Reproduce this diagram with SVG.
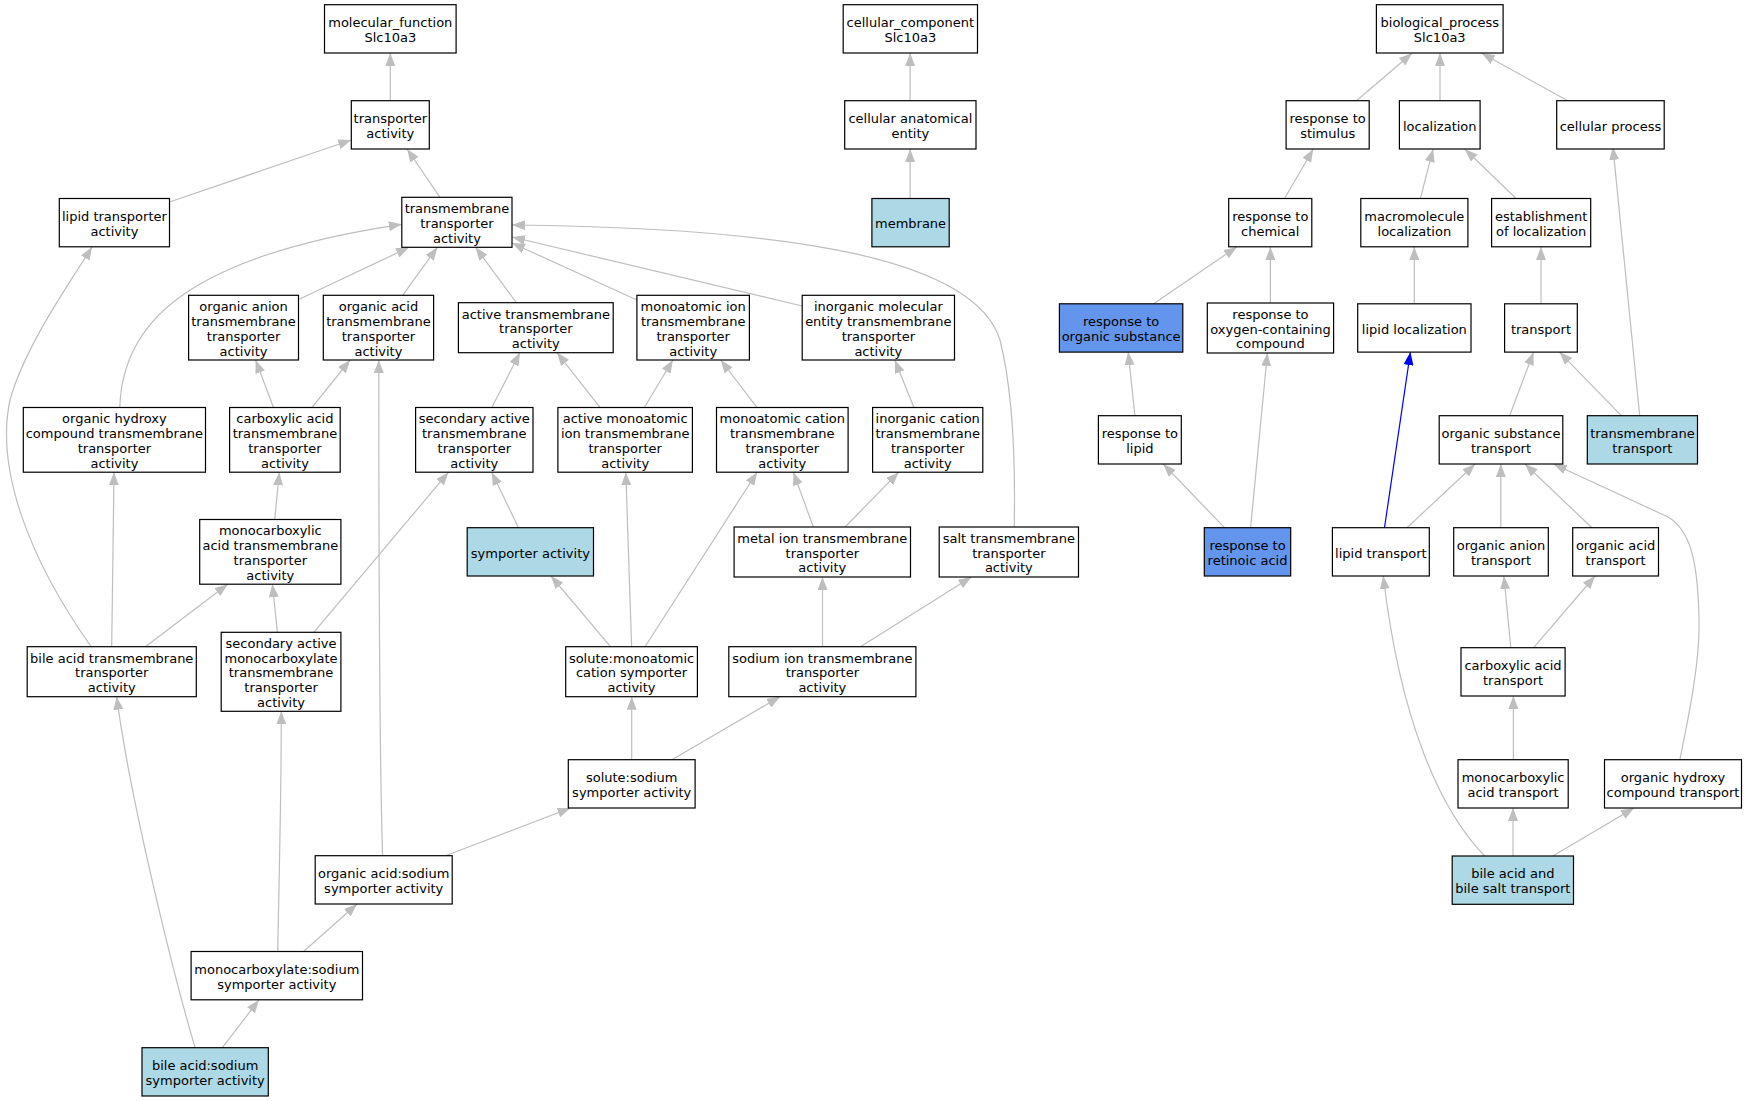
<svg xmlns="http://www.w3.org/2000/svg" width="1748" height="1101" viewBox="0 0 1748 1101">
<defs>
<style>
.n rect{fill:#ffffff;stroke:#000000;stroke-width:1.2}
.n.lb rect{fill:#add8e6}
.n.cb rect{fill:#6495ed}
.n text{font-family:"DejaVu Sans","Liberation Sans",sans-serif;font-size:13px;fill:#000000;text-anchor:middle;transform:translate(0px,1.2px)}
#edges path{fill:none;stroke:#bebebe;stroke-width:1.2;marker-end:url(#ah)}
#edges path.blue{stroke:#0000ff;marker-end:url(#ahb)}
</style>
<marker id="ah" markerUnits="userSpaceOnUse" viewBox="0 0 13 10" markerWidth="13" markerHeight="10" refX="13" refY="5" orient="auto"><path d="M0,0 L13,5 L0,10 z" fill="#bebebe"/></marker>
<marker id="ahb" markerUnits="userSpaceOnUse" viewBox="0 0 13 10" markerWidth="13" markerHeight="10" refX="13" refY="5" orient="auto"><path d="M0,0 L13,5 L0,10 z" fill="#0000ff"/></marker>
</defs>
<rect width="1748" height="1101" fill="#ffffff"/>
<g id="edges">
<path d="M390.3,100.7 L390.3,53"/>
<path d="M169.5,202 L351.3,140"/>
<path d="M440,197.3 L407.1,149"/>
<path d="M299.2,299.3 L409,247.3"/>
<path d="M402.6,295.3 L437.4,247.3"/>
<path d="M516.6,303 L475.6,247.3"/>
<path d="M119.8,407.7 C122,330 175,258 401.8,224.3"/>
<path d="M636.9,300 L512,243"/>
<path d="M802.2,306 L512,237"/>
<path d="M1014.2,527 C1016,440 1010,380 1000,340 C975,260 800,228 512,225"/>
<path d="M273.6,407.7 L255.6,360"/>
<path d="M311.9,407.7 L350.1,360"/>
<path d="M382.6,855.7 C379.5,760 378.8,600 378.8,360"/>
<path d="M491.7,407.7 L520,352.6"/>
<path d="M600.2,407.7 L557,352.6"/>
<path d="M644.2,407.7 L672.9,360"/>
<path d="M757.1,407.7 L720.7,360"/>
<path d="M914,407.7 L894.8,360"/>
<path d="M111.7,646.7 L114,472.2"/>
<path d="M91.1,646.7 C30,560 -5,470 10,400 C25,345 75,275 92,246.9"/>
<path d="M274.7,519.5 L279.3,472.2"/>
<path d="M145.4,646.7 L227.7,584.2"/>
<path d="M277.4,632.3 L272.4,584.2"/>
<path d="M313.8,632.3 L448.5,472.2"/>
<path d="M518.5,527.7 L491.7,472.2"/>
<path d="M610.5,646.7 L551,576"/>
<path d="M631.6,646.7 L625.8,472.2"/>
<path d="M645,646.7 L757.1,472.2"/>
<path d="M813.3,527 L793.4,472.2"/>
<path d="M845.1,527 L898.7,472.2"/>
<path d="M822.5,646.7 L822.5,577"/>
<path d="M860.4,646.7 L971.4,577"/>
<path d="M631.7,759.7 L631.7,696.7"/>
<path d="M671.9,759.7 L780,696.7"/>
<path d="M445.5,855.7 L570.5,808"/>
<path d="M303.6,951.5 L357.1,904"/>
<path d="M277.7,951.5 C279,880 281.3,800 281.3,711.3"/>
<path d="M222.3,1047.7 L258.9,1000"/>
<path d="M195.1,1047.7 C175,980 130,800 116.7,696.7"/>
<path d="M910.1,100.7 L910.1,53"/>
<path d="M910.1,198.5 L910.1,149"/>
<path d="M1356.5,100.7 L1412,53.3"/>
<path d="M1440,100.7 L1440,53"/>
<path d="M1567.8,100.7 L1481.7,53.3"/>
<path d="M1284.6,198.5 L1313.3,149"/>
<path d="M1420.4,198.5 L1433.1,149"/>
<path d="M1516.1,198.5 L1464.8,149"/>
<path d="M1639.7,415.7 L1612.9,146.9"/>
<path d="M1153.7,303.8 L1236.8,246.9"/>
<path d="M1270.4,303 L1270.4,246.9"/>
<path d="M1414.3,303.8 L1414.3,246.9"/>
<path d="M1541,303.8 L1541,246.9"/>
<path d="M1134.9,415.7 L1128.2,352.1"/>
<path d="M1224.5,527.7 L1163.3,464"/>
<path d="M1250.6,527.7 L1267.4,353"/>
<path class="blue" d="M1384.5,527.7 L1410.4,352.1"/>
<path d="M1509.6,415.7 L1533.6,352.1"/>
<path d="M1621.3,415.7 L1559.5,352.1"/>
<path d="M1407,527.7 L1475.2,464"/>
<path d="M1500.8,527.7 L1500.8,464"/>
<path d="M1591.9,527.7 L1524.9,464"/>
<path d="M1679.9,759.7 C1690,710 1700,660 1699,620 C1698,560 1690,530 1668,517 L1553.6,464"/>
<path d="M1510.8,647.7 L1503.9,576"/>
<path d="M1533.7,647.7 L1595,576"/>
<path d="M1513.4,759.7 L1513.4,696"/>
<path d="M1513,856 L1513,808"/>
<path d="M1552.9,856 L1634,808"/>
<path d="M1484.7,856 C1440,810 1400,720 1383.3,576"/>
</g>
<g id="molecular_function" class="n"><rect x="324.5" y="4.7" width="131.6" height="48.3"/><text><tspan x="390.3" y="25.9">molecular_function</tspan><tspan x="390.3" y="40.7">Slc10a3</tspan></text></g>
<g id="transporter_activity" class="n"><rect x="351.3" y="100.7" width="78" height="48.3"/><text><tspan x="390.3" y="121.9">transporter</tspan><tspan x="390.3" y="136.7">activity</tspan></text></g>
<g id="lipid_transporter_activity" class="n"><rect x="59.3" y="198.5" width="110.2" height="48.3"/><text><tspan x="114.4" y="219.8">lipid transporter</tspan><tspan x="114.4" y="234.6">activity</tspan></text></g>
<g id="transmembrane_transporter_activity" class="n"><rect x="401.8" y="197.3" width="110.2" height="50"/><text><tspan x="456.9" y="212">transmembrane</tspan><tspan x="456.9" y="226.8">transporter</tspan><tspan x="456.9" y="241.6">activity</tspan></text></g>
<g id="organic_anion_tm" class="n"><rect x="188.6" y="295.3" width="109.9" height="64.7"/><text><tspan x="243.55" y="309.95">organic anion</tspan><tspan x="243.55" y="324.75">transmembrane</tspan><tspan x="243.55" y="339.55">transporter</tspan><tspan x="243.55" y="354.35">activity</tspan></text></g>
<g id="organic_acid_tm" class="n"><rect x="323.3" y="295.3" width="110.3" height="64.7"/><text><tspan x="378.45" y="309.95">organic acid</tspan><tspan x="378.45" y="324.75">transmembrane</tspan><tspan x="378.45" y="339.55">transporter</tspan><tspan x="378.45" y="354.35">activity</tspan></text></g>
<g id="active_tm" class="n"><rect x="458.4" y="302.7" width="154.8" height="50"/><text><tspan x="535.8" y="317.35">active transmembrane</tspan><tspan x="535.8" y="332.15">transporter</tspan><tspan x="535.8" y="346.95">activity</tspan></text></g>
<g id="monoatomic_ion_tm" class="n"><rect x="636.9" y="295.3" width="112.5" height="64.7"/><text><tspan x="693.15" y="309.95">monoatomic ion</tspan><tspan x="693.15" y="324.75">transmembrane</tspan><tspan x="693.15" y="339.55">transporter</tspan><tspan x="693.15" y="354.35">activity</tspan></text></g>
<g id="inorganic_molecular_entity_tm" class="n"><rect x="802.2" y="295.3" width="152.3" height="64.7"/><text><tspan x="878.35" y="309.95">inorganic molecular</tspan><tspan x="878.35" y="324.75">entity transmembrane</tspan><tspan x="878.35" y="339.55">transporter</tspan><tspan x="878.35" y="354.35">activity</tspan></text></g>
<g id="organic_hydroxy_tm" class="n"><rect x="23.3" y="407.5" width="182.2" height="64.7"/><text><tspan x="114.4" y="422.15">organic hydroxy</tspan><tspan x="114.4" y="436.95">compound transmembrane</tspan><tspan x="114.4" y="451.75">transporter</tspan><tspan x="114.4" y="466.55">activity</tspan></text></g>
<g id="carboxylic_acid_tm" class="n"><rect x="229.6" y="407.5" width="110.6" height="64.7"/><text><tspan x="284.9" y="422.15">carboxylic acid</tspan><tspan x="284.9" y="436.95">transmembrane</tspan><tspan x="284.9" y="451.75">transporter</tspan><tspan x="284.9" y="466.55">activity</tspan></text></g>
<g id="secondary_active_tm" class="n"><rect x="415.6" y="407.5" width="117.4" height="64.7"/><text><tspan x="474.3" y="422.15">secondary active</tspan><tspan x="474.3" y="436.95">transmembrane</tspan><tspan x="474.3" y="451.75">transporter</tspan><tspan x="474.3" y="466.55">activity</tspan></text></g>
<g id="active_monoatomic_ion_tm" class="n"><rect x="557.9" y="407.5" width="134.5" height="64.7"/><text><tspan x="625.15" y="422.15">active monoatomic</tspan><tspan x="625.15" y="436.95">ion transmembrane</tspan><tspan x="625.15" y="451.75">transporter</tspan><tspan x="625.15" y="466.55">activity</tspan></text></g>
<g id="monoatomic_cation_tm" class="n"><rect x="716.5" y="407.5" width="131.6" height="64.7"/><text><tspan x="782.3" y="422.15">monoatomic cation</tspan><tspan x="782.3" y="436.95">transmembrane</tspan><tspan x="782.3" y="451.75">transporter</tspan><tspan x="782.3" y="466.55">activity</tspan></text></g>
<g id="inorganic_cation_tm" class="n"><rect x="872.6" y="407.5" width="110.2" height="64.7"/><text><tspan x="927.7" y="422.15">inorganic cation</tspan><tspan x="927.7" y="436.95">transmembrane</tspan><tspan x="927.7" y="451.75">transporter</tspan><tspan x="927.7" y="466.55">activity</tspan></text></g>
<g id="monocarboxylic_acid_tm" class="n"><rect x="199.7" y="519.5" width="141.2" height="64.7"/><text><tspan x="270.3" y="534.15">monocarboxylic</tspan><tspan x="270.3" y="548.95">acid transmembrane</tspan><tspan x="270.3" y="563.75">transporter</tspan><tspan x="270.3" y="578.55">activity</tspan></text></g>
<g id="symporter_activity" class="n lb"><rect x="467.2" y="527.7" width="126.3" height="48.3"/><text><tspan x="530.35" y="556.35">symporter activity</tspan></text></g>
<g id="metal_ion_tm" class="n"><rect x="734.1" y="527" width="176.4" height="50"/><text><tspan x="822.3" y="541.7">metal ion transmembrane</tspan><tspan x="822.3" y="556.5">transporter</tspan><tspan x="822.3" y="571.3">activity</tspan></text></g>
<g id="salt_tm" class="n"><rect x="939.2" y="527" width="139.3" height="50"/><text><tspan x="1008.85" y="541.7">salt transmembrane</tspan><tspan x="1008.85" y="556.5">transporter</tspan><tspan x="1008.85" y="571.3">activity</tspan></text></g>
<g id="bile_acid_tm" class="n"><rect x="27.2" y="646.7" width="169.1" height="50"/><text><tspan x="111.75" y="661.45">bile acid transmembrane</tspan><tspan x="111.75" y="676.25">transporter</tspan><tspan x="111.75" y="691.05">activity</tspan></text></g>
<g id="secondary_active_monocarboxylate_tm" class="n"><rect x="221.2" y="632.3" width="119.7" height="79"/><text><tspan x="281.05" y="646.7">secondary active</tspan><tspan x="281.05" y="661.5">monocarboxylate</tspan><tspan x="281.05" y="676.3">transmembrane</tspan><tspan x="281.05" y="691.1">transporter</tspan><tspan x="281.05" y="705.9">activity</tspan></text></g>
<g id="solute_monoatomic_cation_symporter" class="n"><rect x="565.7" y="646.7" width="131.7" height="50"/><text><tspan x="631.55" y="661.45">solute:monoatomic</tspan><tspan x="631.55" y="676.25">cation symporter</tspan><tspan x="631.55" y="691.05">activity</tspan></text></g>
<g id="sodium_ion_tm" class="n"><rect x="728.8" y="646.7" width="187.1" height="50"/><text><tspan x="822.35" y="661.45">sodium ion transmembrane</tspan><tspan x="822.35" y="676.25">transporter</tspan><tspan x="822.35" y="691.05">activity</tspan></text></g>
<g id="solute_sodium_symporter" class="n"><rect x="568.3" y="759.7" width="126.8" height="48.3"/><text><tspan x="631.7" y="780.95">solute:sodium</tspan><tspan x="631.7" y="795.75">symporter activity</tspan></text></g>
<g id="organic_acid_sodium_symporter" class="n"><rect x="315.2" y="855.7" width="137" height="48.3"/><text><tspan x="383.7" y="876.95">organic acid:sodium</tspan><tspan x="383.7" y="891.75">symporter activity</tspan></text></g>
<g id="monocarboxylate_sodium_symporter" class="n"><rect x="191.1" y="951.5" width="171.4" height="48.3"/><text><tspan x="276.8" y="972.75">monocarboxylate:sodium</tspan><tspan x="276.8" y="987.55">symporter activity</tspan></text></g>
<g id="bile_acid_sodium_symporter" class="n lb"><rect x="142" y="1047.7" width="126.3" height="48.3"/><text><tspan x="205.15" y="1068.95">bile acid:sodium</tspan><tspan x="205.15" y="1083.75">symporter activity</tspan></text></g>
<g id="cellular_component" class="n"><rect x="843.2" y="4.7" width="134.3" height="48.3"/><text><tspan x="910.35" y="25.9">cellular_component</tspan><tspan x="910.35" y="40.7">Slc10a3</tspan></text></g>
<g id="cellular_anatomical_entity" class="n"><rect x="844.7" y="100.7" width="131.3" height="48.3"/><text><tspan x="910.35" y="121.9">cellular anatomical</tspan><tspan x="910.35" y="136.7">entity</tspan></text></g>
<g id="membrane" class="n lb"><rect x="871.9" y="198.5" width="77.3" height="48.3"/><text><tspan x="910.55" y="227.2">membrane</tspan></text></g>
<g id="biological_process" class="n"><rect x="1376.4" y="4.7" width="126.7" height="48.3"/><text><tspan x="1439.75" y="25.9">biological_process</tspan><tspan x="1439.75" y="40.7">Slc10a3</tspan></text></g>
<g id="response_to_stimulus" class="n"><rect x="1286.1" y="100.7" width="83.1" height="48.3"/><text><tspan x="1327.65" y="121.9">response to</tspan><tspan x="1327.65" y="136.7">stimulus</tspan></text></g>
<g id="localization" class="n"><rect x="1399.4" y="100.7" width="80.7" height="48.3"/><text><tspan x="1439.75" y="129.35">localization</tspan></text></g>
<g id="cellular_process" class="n"><rect x="1556.7" y="100.7" width="107.5" height="48.3"/><text><tspan x="1610.45" y="129.35">cellular process</tspan></text></g>
<g id="response_to_chemical" class="n"><rect x="1228.7" y="198.5" width="83.1" height="48.3"/><text><tspan x="1270.25" y="219.8">response to</tspan><tspan x="1270.25" y="234.6">chemical</tspan></text></g>
<g id="macromolecule_localization" class="n"><rect x="1360.8" y="198.5" width="107.1" height="48.3"/><text><tspan x="1414.35" y="219.8">macromolecule</tspan><tspan x="1414.35" y="234.6">localization</tspan></text></g>
<g id="establishment_of_localization" class="n"><rect x="1491.6" y="198.5" width="99.1" height="48.3"/><text><tspan x="1541.15" y="219.8">establishment</tspan><tspan x="1541.15" y="234.6">of localization</tspan></text></g>
<g id="response_to_organic_substance" class="n cb"><rect x="1059.4" y="303.8" width="123.4" height="48.3"/><text><tspan x="1121.1" y="325.1">response to</tspan><tspan x="1121.1" y="339.9">organic substance</tspan></text></g>
<g id="response_to_oxygen_containing_compound" class="n"><rect x="1207.3" y="303" width="126.3" height="50"/><text><tspan x="1270.45" y="317.7">response to</tspan><tspan x="1270.45" y="332.5">oxygen-containing</tspan><tspan x="1270.45" y="347.3">compound</tspan></text></g>
<g id="lipid_localization" class="n"><rect x="1357.7" y="303.8" width="113.3" height="48.3"/><text><tspan x="1414.35" y="332.5">lipid localization</tspan></text></g>
<g id="transport" class="n"><rect x="1504.6" y="303.8" width="72.7" height="48.3"/><text><tspan x="1540.95" y="332.5">transport</tspan></text></g>
<g id="response_to_lipid" class="n"><rect x="1098.4" y="415.7" width="82.9" height="48.3"/><text><tspan x="1139.85" y="436.95">response to</tspan><tspan x="1139.85" y="451.75">lipid</tspan></text></g>
<g id="organic_substance_transport" class="n"><rect x="1439.2" y="415.7" width="123.6" height="48.3"/><text><tspan x="1501" y="436.95">organic substance</tspan><tspan x="1501" y="451.75">transport</tspan></text></g>
<g id="transmembrane_transport" class="n lb"><rect x="1587.3" y="415.7" width="110.2" height="48.3"/><text><tspan x="1642.4" y="436.95">transmembrane</tspan><tspan x="1642.4" y="451.75">transport</tspan></text></g>
<g id="response_to_retinoic_acid" class="n cb"><rect x="1204.3" y="527.7" width="86.4" height="48.3"/><text><tspan x="1247.5" y="548.95">response to</tspan><tspan x="1247.5" y="563.75">retinoic acid</tspan></text></g>
<g id="lipid_transport" class="n"><rect x="1332.4" y="527.7" width="96.9" height="48.3"/><text><tspan x="1380.85" y="556.35">lipid transport</tspan></text></g>
<g id="organic_anion_transport" class="n"><rect x="1453.7" y="527.7" width="94.6" height="48.3"/><text><tspan x="1501" y="548.95">organic anion</tspan><tspan x="1501" y="563.75">transport</tspan></text></g>
<g id="organic_acid_transport" class="n"><rect x="1572.7" y="527.7" width="85.8" height="48.3"/><text><tspan x="1615.6" y="548.95">organic acid</tspan><tspan x="1615.6" y="563.75">transport</tspan></text></g>
<g id="carboxylic_acid_transport" class="n"><rect x="1461" y="647.7" width="104.1" height="48.3"/><text><tspan x="1513.05" y="668.95">carboxylic acid</tspan><tspan x="1513.05" y="683.75">transport</tspan></text></g>
<g id="monocarboxylic_acid_transport" class="n"><rect x="1458" y="759.7" width="110.2" height="48.3"/><text><tspan x="1513.1" y="780.95">monocarboxylic</tspan><tspan x="1513.1" y="795.75">acid transport</tspan></text></g>
<g id="organic_hydroxy_compound_transport" class="n"><rect x="1604.5" y="759.7" width="137" height="48.3"/><text><tspan x="1673" y="780.95">organic hydroxy</tspan><tspan x="1673" y="795.75">compound transport</tspan></text></g>
<g id="bile_acid_and_bile_salt_transport" class="n lb"><rect x="1452.2" y="856" width="121.3" height="48.3"/><text><tspan x="1512.85" y="877.1">bile acid and</tspan><tspan x="1512.85" y="891.9">bile salt transport</tspan></text></g>
</svg>
